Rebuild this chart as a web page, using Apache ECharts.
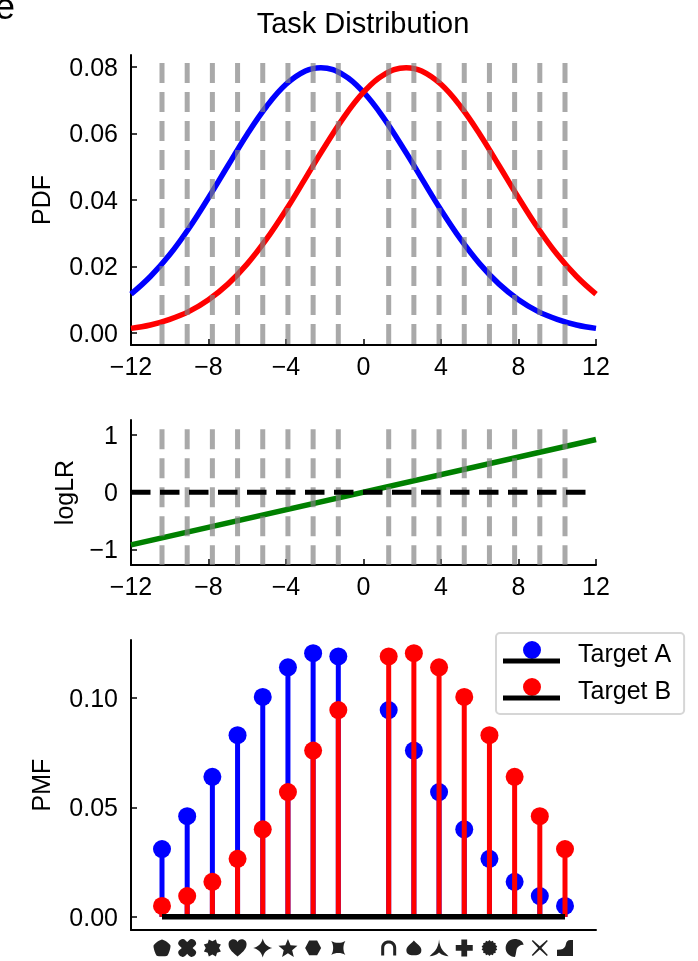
<!DOCTYPE html>
<html><head><meta charset="utf-8">
<style>html,body{margin:0;padding:0;background:#fff}#c{width:698px;height:961px}</style>
<script src="https://cdn.jsdelivr.net/npm/echarts@6/dist/echarts.min.js"></script>
</head><body><div id="c"></div>
<script>
const curveX = [-12,-11,-10,-9,-8,-7,-6,-5,-4,-3,-2.2,-1,0,1,2.2,3,4,5,6,7,8,9,10,11,12];
const pdfA = [.0117,.0170,.0236,.0316,.0407,.0503,.0598,.0682,.0748,.0788,.0798,.0775,.0724,.0650,.0542,.0465,.0370,.0283,.0208,.0147,.0100,.0065,.0041,.0024,.0014];
const pdfB = [.0014,.0024,.0041,.0065,.0100,.0147,.0208,.0283,.0370,.0465,.0542,.0650,.0724,.0775,.0798,.0788,.0748,.0682,.0598,.0503,.0407,.0316,.0236,.0170,.0117];
const logLRX = [-12,12];
const logLRV = [-.92,.92];
const zeroX = [-12,11.5];
const stimX = [-10.4,-9.1,-7.8,-6.5,-5.2,-3.9,-2.6,-1.3,1.3,2.6,3.9,5.2,6.5,7.8,9.1,10.4];
const pmfA = [.031,.046,.064,.083,.1005,.114,.1205,.119,.0945,.076,.057,.040,.0265,.016,.0095,.005];
const pmfB = [.005,.0095,.016,.0265,.040,.057,.076,.0945,.119,.1205,.114,.1005,.083,.064,.046,.031];
const pdfTicks = [0,.02,.04,.06,.08];
const llrTicks = [-1,0,1];
const pmfTicks = [0,.05,.10];
const targetNames = ['Target A','Target B'];

function poly(pts){return 'path://M'+pts.map(p=>p[0].toFixed(1)+' '+p[1].toFixed(1)).join('L')+'Z';}
function star(n,r1,r2,rot){const a=[];for(let i=0;i<2*n;i++){const t=(rot||0)+i*Math.PI/n,r=i%2?r2:r1;a.push([50+r*Math.sin(t),50-r*Math.cos(t)]);}return poly(a);}
const glyphs = [
 'path://M50 2C60 4 90 20 98 36C100 44 90 84 80 94C70 98 30 98 20 94C10 84 0 44 2 36C10 20 40 4 50 2Z',
 'path://M26 4C36 2 44 14 50 20C56 14 64 2 74 4C90 6 98 20 96 30C94 38 84 44 78 50C84 56 94 62 96 70C98 82 88 94 74 96C64 98 56 86 50 80C44 86 36 98 26 96C12 94 2 82 4 70C6 62 16 56 22 50C16 44 6 38 4 30C2 20 10 6 26 4Z',
 star(8,50,36,Math.PI/8),
 'path://M50 96C30 78 2 58 2 30C2 12 16 4 28 4C38 4 46 10 50 18C54 10 62 4 72 4C84 4 98 12 98 30C98 58 70 78 50 96Z',
 'path://M50 0C56 26 74 44 100 50C74 56 56 74 50 100C44 74 26 56 0 50C26 44 44 26 50 0Z',
 star(5,54,24),
 poly([[26,6],[74,6],[98,50],[74,94],[26,94],[2,50]]),
 'path://M0 0C30 18 70 18 100 0C82 30 82 70 100 100C70 82 30 82 0 100C18 70 18 30 0 0Z',
 'path://M0 100L0 48C0 18 22 0 50 0C78 0 100 18 100 48L100 100L80 100L80 50C80 30 68 20 50 20C32 20 20 30 20 50L20 100Z',
 'path://M50 0C60 14 78 24 90 40C98 50 100 62 96 74C90 90 70 94 50 94C30 94 10 90 4 74C0 62 2 50 10 40C22 24 40 14 50 0Z',
 'path://M50 0C52 24 58 42 70 58C78 68 90 78 100 88C84 86 64 82 50 68C36 82 16 86 0 88C10 78 22 68 30 58C42 42 48 24 50 0Z',
 poly([[33,0],[67,0],[67,33],[100,33],[100,67],[67,67],[67,100],[33,100],[33,67],[0,67],[0,33],[33,33]]),
 star(14,50,42),
 'path://M50 0C76 0 96 12 100 32C84 30 68 40 62 54C58 68 58 84 52 100C22 98 0 78 0 50C0 22 22 0 50 0Z',
 'path://M6 0L50 40L94 0L100 6L60 50L100 94L94 100L50 60L6 100L0 94L40 50L0 6Z',
 'path://M100 0L100 100L0 100L0 62L22 60C42 58 52 46 56 26C58 12 66 0 84 0Z'
];
const glyphScale = [17,18,17,18,19,19,16,14,15,15,19,17,16,18,16,16];
const glyphY = -0.0142;

const fs = 25, font = 'Liberation Sans';
function fmtMinus(v,d){const s=Math.abs(v).toFixed(d);return (v<0?'\u2212':'')+s;}
function xAxis(gi,labels){return {gridIndex:gi,type:'value',min:-12,max:12,interval:4,
  axisLine:{show:true,onZero:false,lineStyle:{color:'#000',width:2}},
  axisTick:{show:labels,inside:true,length:6,lineStyle:{color:'#000',width:1.5}},
  axisLabel:{show:labels,color:'#000',fontSize:fs,fontFamily:font,margin:11,showMinLabel:true,showMaxLabel:true,
    formatter:v=>fmtMinus(v,0)},
  splitLine:{show:false}};}
function yAxis(gi,min,max,ticks,d,name,gap){return {gridIndex:gi,type:'value',min:min,max:max,name:name,nameLocation:'middle',nameGap:gap,
  nameTextStyle:{color:'#000',fontSize:fs,fontFamily:font},
  axisLine:{show:true,onZero:false,lineStyle:{color:'#000',width:2}},
  axisTick:{show:true,inside:true,length:6,customValues:ticks,lineStyle:{color:'#000',width:1.5}},
  axisLabel:{color:'#000',fontSize:fs,fontFamily:font,margin:13,lineHeight:25,verticalAlign:'top',padding:[-10.5,0,0,0],customValues:ticks,formatter:v=>fmtMinus(v,d)},
  splitLine:{show:false}};}

function vlines(gi,top,bottom){return {type:'custom',xAxisIndex:gi,yAxisIndex:gi,silent:true,z:5,clip:false,
  data:stimX.map(x=>[x]),
  renderItem:(p,api)=>{const a=api.coord([api.value(0),top]),b=api.coord([api.value(0),bottom]);
    return {type:'line',shape:{x1:a[0],y1:a[1],x2:b[0],y2:b[1]},
      style:{stroke:'rgba(128,128,128,0.68)',lineWidth:5,lineDash:[20,9],lineCap:'butt',fill:null}};}};}
function stems(vals,color,z){return {type:'custom',xAxisIndex:2,yAxisIndex:2,silent:true,z:z,
  data:stimX.map((x,i)=>[x,vals[i]]),
  renderItem:(p,api)=>{const a=api.coord([api.value(0),0]),b=api.coord([api.value(0),api.value(1)]);
    return {type:'line',shape:{x1:a[0],y1:a[1],x2:b[0],y2:b[1]},style:{stroke:color,lineWidth:5,lineCap:'butt',fill:null}};}};}
function dots(name,vals,color,z){return {type:'scatter',name:name,xAxisIndex:2,yAxisIndex:2,symbol:'circle',symbolSize:18,z:z,silent:true,
  itemStyle:{color:color,opacity:1},data:stimX.map((x,i)=>[x,vals[i]])};}
function curve(gi,xs,ys,color,z,smooth,extra){return Object.assign({type:'line',xAxisIndex:gi,yAxisIndex:gi,showSymbol:false,smooth:smooth,silent:true,z:z,
  lineStyle:{color:color,width:5.5,cap:'butt'},data:xs.map((x,i)=>[x,ys[i]])},extra||{});}

const option = {
  animation:false,backgroundColor:'#fff',
  title:[
    {text:'Task Distribution',left:358,top:5,textAlign:'center',textStyle:{color:'#000',fontSize:29,fontWeight:'normal',fontFamily:font}},
    {text:'e',left:-10,top:-14,textStyle:{color:'#000',fontSize:36,fontWeight:'normal',fontFamily:font}}
  ],
  grid:[
    {left:131,width:465,top:55,height:290},
    {left:131,width:465,top:420,height:145},
    {left:131,width:465,top:640,height:290}
  ],
  xAxis:[xAxis(0,true),xAxis(1,true),xAxis(2,false)],
  yAxis:[
    yAxis(0,-0.0036,0.0836,pdfTicks,2,'PDF',75),
    yAxis(1,-1.27,1.26,llrTicks,0,'logLR',52),
    yAxis(2,-0.006,0.1265,pmfTicks,2,'PMF',75)
  ],
  legend:{show:true,left:496,top:633,orient:'vertical',data:targetNames,itemWidth:18,itemHeight:28,itemGap:9,
    icon:'path://M0 9A9 9 0 1 1 18 9A9 9 0 1 1 0 9ZM9 28L9.01 28Z',
    padding:[8,13,8,27],backgroundColor:'#fff',borderColor:'#d6d6d6',borderWidth:2,borderRadius:4,
    textStyle:{color:'#000',fontSize:fs,fontFamily:font,lineHeight:25,padding:[0,0,0,32]}},
  graphic:[
    {type:'rect',z:100,shape:{x:503,y:658.5,width:57,height:5},style:{fill:'#000'}},
    {type:'rect',z:100,shape:{x:503,y:695.5,width:57,height:5},style:{fill:'#000'}}
  ],
  series:[
    curve(0,curveX,pdfA,'#0000ff',2,0.4),
    curve(0,curveX,pdfB,'#ff0000',3,0.4),
    vlines(0,0.0812,-0.0036),
    curve(1,logLRX,logLRV,'#008000',2,false),
    vlines(1,1.1,-1.27),
    curve(1,zeroX,[0,0],'#000',6,false,{lineStyle:{color:'#000',width:5,type:[19.5,9.5],cap:'butt'}}),
    stems(pmfA,'#0000ff',2),
    dots(targetNames[0],pmfA,'#0000ff',3),
    stems(pmfB,'#ff0000',4),
    dots(targetNames[1],pmfB,'#ff0000',5),
    curve(2,[stimX[0],stimX[15]],[0,0],'#000',6,false),
    {type:'scatter',xAxisIndex:2,yAxisIndex:2,clip:false,silent:true,z:6,symbolKeepAspect:true,
      itemStyle:{color:'#222',opacity:1},
      data:stimX.map((x,i)=>({value:[x,glyphY],symbol:glyphs[i],symbolSize:glyphScale[i]}))}
  ]
};
echarts.init(document.getElementById('c'),null,{renderer:'canvas'}).setOption(option);
</script></body></html>
